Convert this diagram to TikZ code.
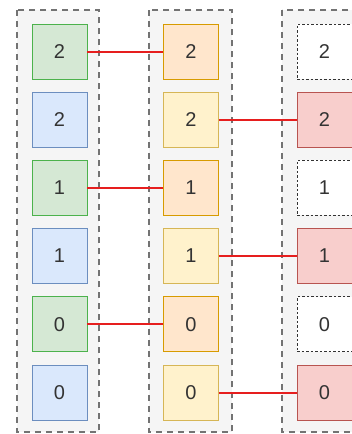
\documentclass[tikz,border=0pt]{standalone}
\usepackage{fontspec}
\setmainfont{Liberation Sans}
\begin{document}
\begin{tikzpicture}[x=1pt,y=-1pt,
  cont/.style={draw=black!55, fill=black!4, line width=1.8pt, dash pattern=on 6pt off 5pt},
  cell/.style={minimum width=55pt, minimum height=55pt, inner sep=0pt, line width=0.8pt, font=\fontsize{20}{20}\selectfont, text=black!80},
  gcell/.style={cell, draw=green!40!gray, fill={rgb,255:red,213;green,232;blue,212}},
  bcell/.style={cell, draw={rgb,255:red,108;green,142;blue,191}, fill={rgb,255:red,218;green,232;blue,252}},
  ocell/.style={cell, draw={rgb,255:red,215;green,155;blue,0}, fill={rgb,255:red,255;green,230;blue,204}},
  ycell/.style={cell, draw={rgb,255:red,214;green,182;blue,86}, fill={rgb,255:red,255;green,242;blue,204}},
  rcell/.style={cell, draw={rgb,255:red,184;green,84;blue,80}, fill={rgb,255:red,248;green,206;blue,204}},
  wcell/.style={cell, draw=black!80, fill=white, dash pattern=on 2.5pt off 2pt},
  link/.style={draw={rgb,255:red,230;green,30;blue,30}, line width=2pt}]
\useasboundingbox (0,0) rectangle (351,434);
\fill[white] (0,0) rectangle (351,434);
\path[cont] (17,10) rectangle (99,432);
\path[cont] (149,10) rectangle (232,432);
\path[cont] (282,10) rectangle (366,432);
% column 1
\node[gcell] (a1) at (59.5,51.5) {2};
\node[bcell] (a2) at (59.5,119.7) {2};
\node[gcell] (a3) at (59.5,187.9) {1};
\node[bcell] (a4) at (59.5,256.1) {1};
\node[gcell] (a5) at (59.5,324.3) {0};
\node[bcell] (a6) at (59.5,392.5) {0};
% column 2
\node[ocell] (b1) at (191,51.5) {2};
\node[ycell] (b2) at (191,119.7) {2};
\node[ocell] (b3) at (191,187.9) {1};
\node[ycell] (b4) at (191,256.1) {1};
\node[ocell] (b5) at (191,324.3) {0};
\node[ycell] (b6) at (191,392.5) {0};
% column 3
\node[wcell] (c1) at (324.5,51.5) {2};
\node[rcell] (c2) at (324.5,119.7) {2};
\node[wcell] (c3) at (324.5,187.9) {1};
\node[rcell] (c4) at (324.5,256.1) {1};
\node[wcell] (c5) at (324.5,324.3) {0};
\node[rcell] (c6) at (324.5,392.5) {0};
% links
\draw[link] (a1.east) -- (b1.west);
\draw[link] (a3.east) -- (b3.west);
\draw[link] (a5.east) -- (b5.west);
\draw[link] (b2.east) -- (c2.west);
\draw[link] (b4.east) -- (c4.west);
\draw[link] (b6.east) -- (c6.west);
\end{tikzpicture}
\end{document}
